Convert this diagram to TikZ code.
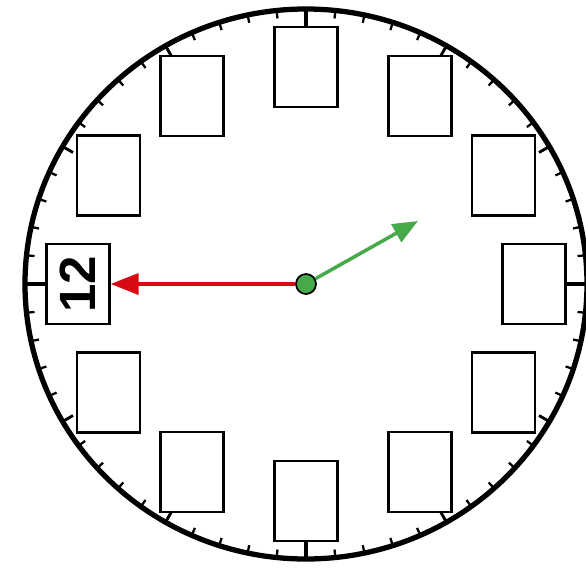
\documentclass[tikz,border=0pt]{standalone}
\usepackage{fontspec}
\setsansfont{Liberation Sans}
\usetikzlibrary{arrows.meta}
\definecolor{handred}{RGB}{215,10,20}
\definecolor{handgreen}{RGB}{70,170,75}
\tikzset{
  slot/.style={draw, line width=1.3pt, fill=white, inner sep=0pt,
               minimum width=1.26cm, minimum height=1.6cm},
  rim/.style={line width=3pt},
  minortick/.style={line width=1.3pt},
  hourtick/.style={line width=1.6pt},
  quartertick/.style={line width=2.8pt},
  redhand/.style={draw=handred, line width=2pt,
                  -{Triangle[length=0.56cm, width=0.42cm, fill=handred]}},
  greenhand/.style={draw=handgreen, line width=2pt,
                    -{Triangle[length=0.5cm, width=0.4cm, fill=handgreen]}},
}

\begin{document}
\begin{tikzpicture}
    \useasboundingbox (-6.12,-5.74) rectangle (5.6,5.68);
    \fill[white] (-6.12,-5.74) rectangle (5.6,5.68);
    % dial
    \draw[rim] (0,0) ellipse (5.62 and 5.50);
    \foreach \a in {0,6,...,354}
      \draw[minortick] (\a:5.62 and 5.50) -- (\a:5.46 and 5.34);
    \foreach \a in {30,60,...,330}
      \draw[hourtick] (\a:5.62 and 5.50) -- (\a:5.38 and 5.26);
    \foreach \a in {0,90,180,270}
      \draw[quartertick] (\a:5.62 and 5.50) -- (\a:5.20 and 5.08);
    % number slots
    \foreach \a in {0,30,...,330}
      \node[slot] (slot\a) at (\a:4.56 and 4.34) {};
    \node[rotate=90, font=\fontsize{29}{30}\selectfont\sffamily\bfseries]
      (twelve) at (slot180.center) {12};
    % hands
    \node[circle, draw=black, line width=1pt, fill=handgreen,
          minimum size=0.4cm, inner sep=0pt] (pivot) at (0,0) {};
    \coordinate (minute) at (2.24,1.26);
    \draw[redhand] (pivot) -- (slot180.east);
    \draw[greenhand] (pivot) -- (minute);
\end{tikzpicture}
\end{document}
